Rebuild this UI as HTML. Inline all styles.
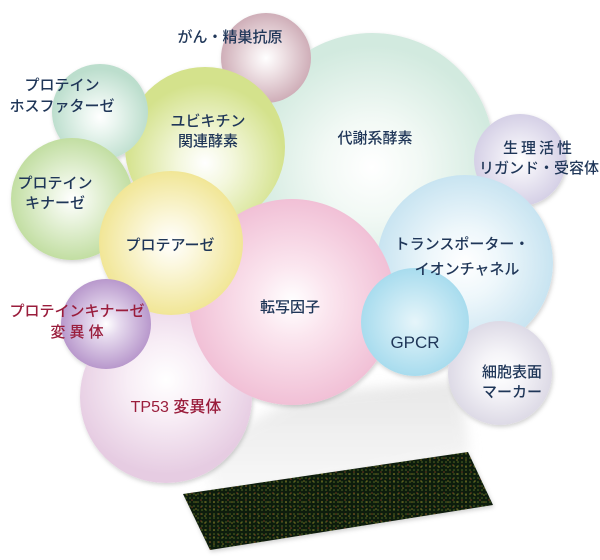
<!DOCTYPE html>
<html><head><meta charset="utf-8"><style>
html,body{margin:0;padding:0;background:#fff;}
svg{display:block;}
text{font-family:"Liberation Sans","Noto Sans CJK JP",sans-serif;font-size:15px;fill:#1f3658;text-anchor:middle;font-weight:500;}
.r{fill:#9a1d3c;}
</style></head><body>
<svg width="600" height="560" viewBox="0 0 600 560" xmlns="http://www.w3.org/2000/svg">
<defs>
<filter id="sh" x="-20%" y="-20%" width="140%" height="140%"><feDropShadow dx="1" dy="2" stdDeviation="2" flood-color="#000" flood-opacity="0.18"/></filter>
<filter id="bl"><feGaussianBlur stdDeviation="6"/></filter>
<linearGradient id="fan" x1="0" y1="0" x2="0" y2="1"><stop offset="0" stop-color="#d4d4d4"/><stop offset="1" stop-color="#f8f8f8"/></linearGradient>
<pattern id="dots" width="4" height="4" patternUnits="userSpaceOnUse"><rect width="4" height="4" fill="#111c10"/><circle cx="2" cy="2" r="0.8" fill="#4f6b22"/></pattern>
<pattern id="dots2" width="9" height="7" patternUnits="userSpaceOnUse"><circle cx="3" cy="3" r="0.8" fill="#b8502a"/><circle cx="7" cy="5" r="0.8" fill="#c0a030"/></pattern>
<radialGradient id="g1" cx="0.5" cy="0.55" r="0.5"><stop offset="0" stop-color="#fff"/><stop offset="0.4" stop-color="#f2f9f5"/><stop offset="1" stop-color="#d2eadf"/></radialGradient>
<radialGradient id="g2" cx="0.5" cy="0.5" r="0.5"><stop offset="0" stop-color="#fff"/><stop offset="0.35" stop-color="#f0e4e7"/><stop offset="1" stop-color="#cfaeb8"/></radialGradient>
<radialGradient id="g3" cx="0.5" cy="0.6" r="0.5"><stop offset="0" stop-color="#fff"/><stop offset="0.35" stop-color="#f3f7dc"/><stop offset="1" stop-color="#d4e28c"/></radialGradient>
<radialGradient id="g4" cx="0.5" cy="0.55" r="0.5"><stop offset="0" stop-color="#fff"/><stop offset="0.35" stop-color="#e9f5ef"/><stop offset="1" stop-color="#bcdecd"/></radialGradient>
<radialGradient id="g5" cx="0.5" cy="0.5" r="0.5"><stop offset="0" stop-color="#fff"/><stop offset="0.35" stop-color="#eaf4df"/><stop offset="1" stop-color="#c2dea2"/></radialGradient>
<radialGradient id="g6" cx="0.5" cy="0.5" r="0.5"><stop offset="0" stop-color="#fff"/><stop offset="0.35" stop-color="#f0eef6"/><stop offset="1" stop-color="#d5d0e6"/></radialGradient>
<radialGradient id="g7" cx="0.5" cy="0.5" r="0.5"><stop offset="0" stop-color="#fff"/><stop offset="0.4" stop-color="#eef7fb"/><stop offset="1" stop-color="#c8e4f1"/></radialGradient>
<radialGradient id="g8" cx="0.5" cy="0.4" r="0.55"><stop offset="0" stop-color="#fff"/><stop offset="0.4" stop-color="#f8eef6"/><stop offset="1" stop-color="#e6cce2"/></radialGradient>
<radialGradient id="g9" cx="0.5" cy="0.5" r="0.5"><stop offset="0" stop-color="#fff"/><stop offset="0.35" stop-color="#fbe6ef"/><stop offset="1" stop-color="#f1c0d6"/></radialGradient>
<radialGradient id="g10" cx="0.5" cy="0.5" r="0.5"><stop offset="0" stop-color="#fff"/><stop offset="0.35" stop-color="#fbf7dc"/><stop offset="1" stop-color="#f1e696"/></radialGradient>
<radialGradient id="g11" cx="0.5" cy="0.5" r="0.5"><stop offset="0" stop-color="#fff"/><stop offset="0.3" stop-color="#e6daee"/><stop offset="1" stop-color="#b898cc"/></radialGradient>
<radialGradient id="g12" cx="0.5" cy="0.5" r="0.5"><stop offset="0" stop-color="#fff"/><stop offset="0.4" stop-color="#f5f4f8"/><stop offset="1" stop-color="#dddae6"/></radialGradient>
<radialGradient id="g13" cx="0.5" cy="0.5" r="0.5"><stop offset="0" stop-color="#e6f5fa"/><stop offset="1" stop-color="#a8dcee"/></radialGradient>
</defs>
<polygon points="200,450 300,395 460,380 470,455 215,505" fill="url(#fan)" opacity="0.55" filter="url(#bl)"/>
<g filter="url(#sh)">
<circle cx="372" cy="155" r="122" fill="url(#g1)"/>
<circle cx="266" cy="58" r="45" fill="url(#g2)"/>
<circle cx="205" cy="147" r="80" fill="url(#g3)"/>
<circle cx="100" cy="112" r="48" fill="url(#g4)"/>
<circle cx="72" cy="199" r="61" fill="url(#g5)"/>
<circle cx="520" cy="160" r="46" fill="url(#g6)"/>
<circle cx="465" cy="263" r="88" fill="url(#g7)"/>
<circle cx="166" cy="397" r="86" fill="url(#g8)"/>
<circle cx="292" cy="302" r="103" fill="url(#g9)"/>
<circle cx="171" cy="243" r="72" fill="url(#g10)"/>
<circle cx="106" cy="324" r="45" fill="url(#g11)"/>
<circle cx="500" cy="373" r="52" fill="url(#g12)"/>
<circle cx="415" cy="322" r="54" fill="url(#g13)"/>
</g>
<polygon points="183,494 468,452 493,505 210,550" fill="url(#dots)" filter="url(#sh)"/>
<polygon points="183,494 468,452 493,505 210,550" fill="url(#dots2)" opacity="0.6"/>
<text x="230" y="42">がん・精巣抗原</text>
<text x="62" y="90">プロテイン</text>
<text x="62" y="111">ホスファターゼ</text>
<text x="208" y="126">ユビキチン</text>
<text x="208" y="146">関連酵素</text>
<text x="375" y="143">代謝系酵素</text>
<text x="539" y="153" style="letter-spacing:3px">生理活性</text>
<text x="539" y="173">リガンド・受容体</text>
<text x="55" y="188">プロテイン</text>
<text x="55" y="208">キナーゼ</text>
<text x="170" y="250">プロテアーゼ</text>
<text x="462" y="249">トランスポーター・</text>
<text x="467" y="274">イオンチャネル</text>
<text x="290" y="312">転写因子</text>
<text class="r" x="77" y="316">プロテインキナーゼ</text>
<text class="r" x="77" y="337">変 異 体</text>
<text x="415" y="348" style="font-size:17px">GPCR</text>
<text x="512" y="377">細胞表面</text>
<text x="512" y="397">マーカー</text>
<text class="r" x="176" y="412" style="font-size:16px">TP53 変異体</text>
</svg>
</body></html>
